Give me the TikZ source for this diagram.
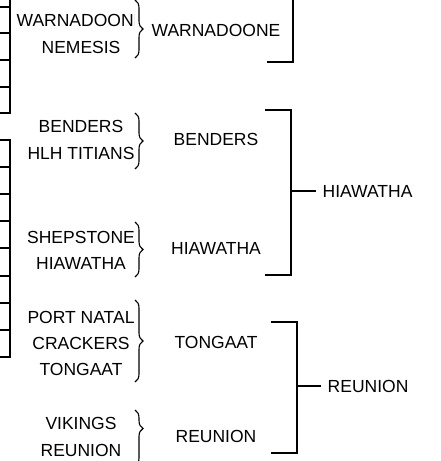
\documentclass[tikz,border=0pt]{standalone}
\usepackage{fontspec}
\setmainfont{Liberation Sans}
\usetikzlibrary{decorations.pathreplacing}
\tikzset{team/.style={inner sep=2pt, font=\fontsize{17.5}{20}\selectfont}}
\tikzset{winner/.style={team, anchor=west, inner sep=6.5pt}}
\tikzset{grp/.style={decorate, decoration={brace, amplitude=8pt}, line width=1.1pt}}
\tikzset{bracket/.style={line width=1.4pt}}
\tikzset{table/.style={line width=2.2pt}}

\begin{document}
\begin{tikzpicture}[x=1pt,y=-1pt]
\useasboundingbox (0,0) rectangle (440,461);
% cut off table on the left
\draw[table] (10,-3) -- (10,113) -- (-3,113);
\foreach \y in {7,33,60,87} {
\draw[table] (-3,\y) -- (10,\y);
}
\draw[table] (-3,140) -- (10,140) -- (10,357) -- (-3,357);
\foreach \y in {167,194,221,248,276,303,330} {
\draw[table] (-3,\y) -- (10,\y);
}
% first round
\begin{scope}
\clip (0,-5) rectangle (134,60);
\node[team] (warnadoone) at (81,20) {WARNADOONE};
\end{scope}
\node[team] (nemesis) at (81,47) {NEMESIS};
\node[team] (benders) at (81,126) {BENDERS};
\node[team] (hlh) at (81,153) {HLH TITIANS};
\node[team] (shepstone) at (81,237) {SHEPSTONE};
\node[team] (hiawatha) at (81,263) {HIAWATHA};
\node[team] (portnatal) at (81,317) {PORT NATAL};
\node[team] (crackers) at (81,343) {CRACKERS};
\node[team] (tongaat) at (81,369) {TONGAAT};
\node[team] (vikings) at (81,423) {VIKINGS};
\node[team] (reunion) at (81,450) {REUNION};
% braces
\coordinate (ba1) at (135,0);   \coordinate (bb1) at (135,58);
\coordinate (ba2) at (135,113); \coordinate (bb2) at (135,169);
\coordinate (ba3) at (135,222); \coordinate (bb3) at (135,277);
\coordinate (ba4) at (135,300); \coordinate (bb4) at (135,382);
\coordinate (ba5) at (135,410); \coordinate (bb5) at (135,466);
\draw[grp] (ba1) -- (bb1);
\draw[grp] (ba2) -- (bb2);
\draw[grp] (ba3) -- (bb3);
\draw[grp] (ba4) -- (bb4);
\draw[grp, decoration={aspect=0.33}] (ba5) -- (bb5);
% second round
\node[team] (warnadoone2) at (216,30) {WARNADOONE};
\node[team] (benders2) at (216,139) {BENDERS};
\node[team] (hiawatha2) at (216,248) {HIAWATHA};
\node[team] (tongaat2) at (216,342) {TONGAAT};
\node[team] (reunion2) at (216,436) {REUNION};
% third round
\node[winner] (hiawatha3) at (316,191) {HIAWATHA};
\node[winner] (reunion3) at (321,386) {REUNION};
\draw[bracket] (293,-5) -- (293,62) -- (267,62);
\draw[bracket] (265,110) -- (291,110) -- (291,275) -- (265,275);
\draw[bracket] (271,322) -- (297,322) -- (297,453) -- (271,453);
\coordinate (s2) at (291,191);
\coordinate (s3) at (297,386);
\draw[bracket] (s2) -- (hiawatha3.west);
\draw[bracket] (s3) -- (reunion3.west);
\end{tikzpicture}
\end{document}
